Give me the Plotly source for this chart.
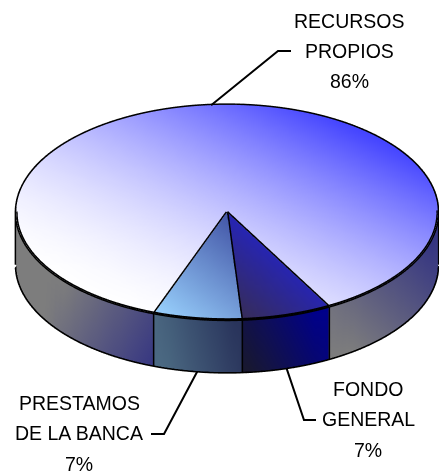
import numpy as np
import plotly.graph_objects as go

# --- data ---
labels = ["RECURSOS PROPIOS", "PRESTAMOS DE LA BANCA", "FONDO GENERAL"]
values = [86.4, 6.7, 6.9]
label_lines = [["RECURSOS", "PROPIOS", "86%"], ["PRESTAMOS", "DE LA BANCA", "7%"], ["FONDO", "GENERAL", "7%"]]

W, H = 439, 473
CX, CY, RX, RY, RIM = 227.0, 212.5, 211.0, 107.5, 52.5
elev = np.arcsin(RY / RX)
h = (RIM / RX) / np.cos(elev)
start_deg = 28.8            # angle (from front, counter-clockwise) where first slice begins


def lerp(c0, c1, t):
    t = np.clip(t, 0, 1)[..., None]
    return np.array(c0) * (1 - t) + np.array(c1) * t


def rgb(a):
    return ["rgb(%d,%d,%d)" % tuple(v) for v in np.rint(a).astype(int)]


def screen(x, y, z):
    return CX + RX * x, CY - RY * y - RIM * (z - h) / h


def grad(px, py, c0, c1, p0, p1, gamma=1.0):
    d = np.array(p1, float) - np.array(p0, float)
    t = ((px - p0[0]) * d[0] + (py - p0[1]) * d[1]) / (d @ d)
    return lerp(c0, c1, np.clip(t, 0, 1) ** gamma)


fractions = np.array(values) / sum(values)
bounds = np.radians(start_deg) + np.concatenate([[0], np.cumsum(fractions)]) * 2 * np.pi


def pt(a):
    return np.sin(a), -np.cos(a)


top_style = [
    ((255, 255, 255), (68, 68, 255), (130, 320), (247, 76), 1.7),
    ((150, 205, 250), (70, 90, 170), (165, 315), (235, 225)),
    ((55, 45, 85), (34, 34, 205), (240, 320), (300, 250)),
]
side_style = [
    ((125, 125, 125), (50, 50, 130), (60, 290), (170, 350), (340, 340), (435, 240)),
    ((75, 105, 130), (40, 50, 90), (160, 350), (240, 330)),
    ((25, 25, 45), (0, 0, 140), (245, 370), (325, 325)),
]

fig = go.Figure()
lx, ly, lz = [], [], []


def add_line(xs, ys, zs):
    lx.extend(list(xs) + [None]); ly.extend(list(ys) + [None]); lz.extend(list(zs) + [None])


flat = dict(ambient=1, diffuse=0, specular=0, roughness=1, fresnel=0)
for i in range(len(values)):
    a0, a1 = bounds[i], bounds[i + 1]
    n = max(int(np.degrees(a1 - a0) / 2), 8)
    ang = np.linspace(a0, a1, n + 1)
    sx, sy = pt(ang)
    rings = np.linspace(0, 1, 25)
    X = np.outer(rings, sx).ravel(); Y = np.outer(rings, sy).ravel(); Z = np.full(X.shape, h)
    I, J, K = [], [], []
    m = n + 1
    for r in range(len(rings) - 1):
        for s in range(n):
            p = r * m + s
            I += [p, p + 1]; J += [p + 1, p + m + 1]; K += [p + m, p + m]
    px, py = screen(X, Y, Z)
    st = top_style[i]
    fig.add_trace(go.Mesh3d(x=X, y=Y, z=Z, i=I, j=J, k=K, vertexcolor=rgb(grad(px, py, *st)),
                            lighting=flat, hoverinfo="skip", showscale=False))
    X = np.concatenate([sx, sx]); Y = np.concatenate([sy, sy]); Z = np.concatenate([np.full(m, h), np.zeros(m)])
    I, J, K = [], [], []
    for s in range(n):
        I += [s, s + 1]; J += [s + 1, s + m + 1]; K += [s + m, s + m]
    px, py = screen(X, Y, Z)
    st = side_style[i]
    if len(st) == 6:
        col = np.where((px < CX)[:, None], grad(px, py, st[0], st[1], st[2], st[3]), grad(px, py, st[0], st[1], st[4], st[5]))
    else:
        col = grad(px, py, *st)
    fig.add_trace(go.Mesh3d(x=X, y=Y, z=Z, i=I, j=J, k=K, vertexcolor=rgb(col),
                            lighting=flat, hoverinfo="skip", showscale=False))
    add_line(np.r_[0, sx[0]], np.r_[0, sy[0]], [h, h])
    add_line(sx, sy, np.full(m, h))
    front = sy <= 0.0
    add_line(sx[front], sy[front], np.zeros(front.sum()))
    x0, y0 = pt(a0)
    add_line([x0, x0], [y0, y0], [h, 0])

add_line([-1, -1], [0, 0], [h, 0])
add_line([1, 1], [0, 0], [h, 0])

fig.add_trace(go.Scatter3d(x=lx, y=ly, z=lz, mode="lines", line=dict(color="black", width=6),
                           hoverinfo="skip", showlegend=False))

mids = (bounds[:-1] + bounds[1:]) / 2
elbows = [((278, 51), (291, 51)), ((164, 434), (151, 434)), ((304, 420), (316, 420))]
shapes = []
for i, m in enumerate(mids):
    mx, my = pt(m)
    z = h if my > 0 else 0
    sx0, sy0 = screen(mx, my, z)
    pts = [(sx0, sy0)] + list(elbows[i])
    shapes.append(dict(type="path", xref="paper", yref="paper",
                       path="M " + " L ".join(f"{p[0]/W:.5f},{1-p[1]/H:.5f}" for p in pts),
                       line=dict(color="black", width=2)))

text_pos = [(349, [21, 51, 81]), (79, [403, 433, 464]), (368, [389, 419, 450])]
ann = []
for lines, (x, ys) in zip(label_lines, text_pos):
    for t, y in zip(lines, ys):
        ann.append(dict(text=t, x=x / W, y=1 - y / H, xref="paper", yref="paper", showarrow=False,
                        xanchor="center", yanchor="middle", font=dict(family="Liberation Sans", size=19.5, color="#000")))

d = 2.0
zoom = 211.0 / 116.0
shift_x, shift_y = 7.5 / 236, 2.0 / 236
axis = dict(visible=False, showgrid=False, zeroline=False, showspikes=False)
fig.update_layout(
    width=W, height=H, margin=dict(l=0, r=0, t=0, b=0), paper_bgcolor="white", showlegend=False,
    shapes=shapes, annotations=ann,
    scene=dict(
        domain=dict(x=[0, 1], y=[0, 1]),
        xaxis=dict(range=[-1.02, 1.02], **axis), yaxis=dict(range=[-1.02, 1.02], **axis), zaxis=dict(range=[0, h], **axis),
        aspectmode="manual", aspectratio=dict(x=zoom, y=zoom, z=zoom * h / 2.04),
        camera=dict(projection=dict(type="orthographic"), up=dict(x=0, y=0, z=1),
                    center=dict(x=-shift_x, y=shift_y * np.sin(elev), z=shift_y * np.cos(elev)),
                    eye=dict(x=-shift_x, y=shift_y * np.sin(elev) - d * np.cos(elev), z=shift_y * np.cos(elev) + d * np.sin(elev))),
    ),
)
fig.write_html("out.html", config=dict(displayModeBar=False), post_script="document.body.style.margin='0';document.body.style.overflow='hidden';")
